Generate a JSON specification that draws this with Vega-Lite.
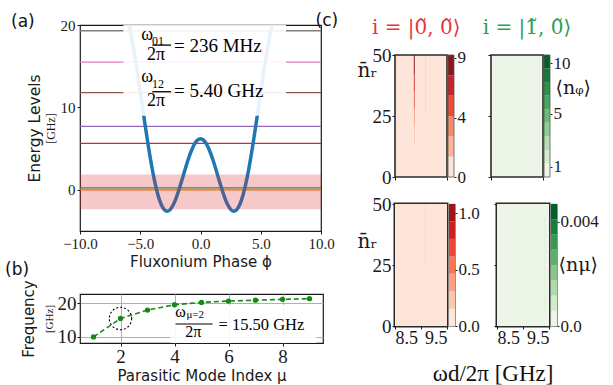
{
"$schema": "https://vega.github.io/schema/vega-lite/v6.json",
"background": "white",
"padding": {"left": 4, "top": 12, "right": 0, "bottom": 0},
"config": {
  "view": {"stroke": null},
  "axis": {"labelFont": "Liberation Serif", "titleFont": "DejaVu Sans", "titleFontWeight": "normal", "labelColor": "#1a1a1a", "titleColor": "#1a1a1a", "domainColor": "#1a1a1a", "tickColor": "#1a1a1a", "grid": false, "labelFlush": false, "labelOverlap": false},
  "title": {"font": "DejaVu Sans", "fontWeight": "normal", "fontSize": 17, "color": "#111111"}
},
"datasets": {
  "levels": [{"E":0.0,"lvl":"E0"},{"E":0.24,"lvl":"E1"},{"E":5.64,"lvl":"E2"},{"E":7.7,"lvl":"E3"},{"E":11.8,"lvl":"E4"},{"E":15.5,"lvl":"E5"},{"E":19.3,"lvl":"E6"}],
  "pot": [{"phi":-5.93,"V":20.0},{"phi":-5.75,"V":18.69},{"phi":-5.5,"V":16.62},{"phi":-5.25,"V":14.32},{"phi":-5.0,"V":11.88},{"phi":-4.75,"V":9.38},{"phi":-4.5,"V":6.92},{"phi":-4.25,"V":4.59},{"phi":-4.0,"V":2.47},{"phi":-3.75,"V":0.66},{"phi":-3.5,"V":-0.78},{"phi":-3.25,"V":-1.82},{"phi":-3.0,"V":-2.42},{"phi":-2.75,"V":-2.6},{"phi":-2.5,"V":-2.37},{"phi":-2.25,"V":-1.79},{"phi":-2.0,"V":-0.91},{"phi":-1.75,"V":0.18},{"phi":-1.5,"V":1.38},{"phi":-1.25,"V":2.61},{"phi":-1.0,"V":3.77},{"phi":-0.75,"V":4.77},{"phi":-0.5,"V":5.55},{"phi":-0.25,"V":6.03},{"phi":0.0,"V":6.2},{"phi":0.25,"V":6.03},{"phi":0.5,"V":5.55},{"phi":0.75,"V":4.77},{"phi":1.0,"V":3.77},{"phi":1.25,"V":2.61},{"phi":1.5,"V":1.38},{"phi":1.75,"V":0.18},{"phi":2.0,"V":-0.91},{"phi":2.25,"V":-1.79},{"phi":2.5,"V":-2.37},{"phi":2.75,"V":-2.6},{"phi":3.0,"V":-2.42},{"phi":3.25,"V":-1.82},{"phi":3.5,"V":-0.78},{"phi":3.75,"V":0.66},{"phi":4.0,"V":2.47},{"phi":4.25,"V":4.59},{"phi":4.5,"V":6.92},{"phi":4.75,"V":9.38},{"phi":5.0,"V":11.88},{"phi":5.25,"V":14.32},{"phi":5.5,"V":16.62},{"phi":5.75,"V":18.69},{"phi":5.93,"V":20.0}],
  "bandA": [{"x0":-10,"x1":10,"lo":-2.35,"hi":1.85}],
  "boxA": [{"x0":-6.4,"x1":7.1,"y0":9.0,"y1":20}],
  "omegaA": [{"x":-4.42,"y":18.8,"t":"ω"},{"x":-3.69,"y":16.3,"t":"2π"},{"x":-4.42,"y":13.65,"t":"ω"},{"x":-3.69,"y":10.75,"t":"2π"}],
  "subA": [{"x":-4.02,"y":18.0,"t":"01"},{"x":-4.02,"y":12.8,"t":"12"}],
  "barA": [{"x0":-4.0,"x1":-2.45,"y":17.56},{"x0":-4.0,"x1":-2.45,"y":11.9}],
  "eqA": [{"x":-2.2,"y":17.5,"t":"=  236 MHz"},{"x":-2.2,"y":12.0,"t":"=  5.40 GHz"}],
  "modes": [{"mu":1,"f":10.0},{"mu":2,"f":15.5},{"mu":3,"f":18.0},{"mu":4,"f":19.6},{"mu":5,"f":20.3},{"mu":6,"f":20.7},{"mu":7,"f":20.95},{"mu":8,"f":21.2},{"mu":9,"f":21.4}],
  "circleB": [{"mu":2,"f":15.5}],
  "boxB": [{"x0":3.85,"x1":9.25,"y0":8.2,"y1":19.6}],
  "omegaB": [{"x":4.22,"y":17.4,"t":"ω"},{"x":4.7,"y":11.39,"t":"2π"}],
  "subB": [{"x":4.44,"y":16.4,"t":"μ=2"}],
  "barB": [{"x0":4.04,"x1":5.41,"y":13.86}],
  "eqB": [{"x":5.63,"y":13.68,"t":"=  15.50 GHz"}],
  "hmframe": [{"x0":8.5,"x1":9.5,"y0":0,"y1":50}],
  "hm1": [{"x0":8.5,"x1":9.5,"y0":0,"y1":50,"v":0.5},{"x0":8.862,"x1":8.88,"y0":42,"y1":50,"v":8.5},{"x0":8.863,"x1":8.879,"y0":35,"y1":42,"v":6.5},{"x0":8.864,"x1":8.878,"y0":28,"y1":35,"v":5.0},{"x0":8.865,"x1":8.877,"y0":21,"y1":28,"v":3.5},{"x0":8.866,"x1":8.876,"y0":13,"y1":21,"v":2.0},{"x0":9.088,"x1":9.094,"y0":26,"y1":50,"v":2.0}],
  "cb1": [{"lo":0,"hi":1.508,"v":0.75},{"lo":1.508,"hi":3.017,"v":2.26},{"lo":3.017,"hi":4.525,"v":3.77},{"lo":4.525,"hi":6.033,"v":5.28},{"lo":6.033,"hi":7.542,"v":6.79},{"lo":7.542,"hi":9.05,"v":8.3}],
  "cb1frame": [{"lo":0,"hi":9.05}],
  "hm2": [{"x0":8.5,"x1":9.5,"y0":0,"y1":50,"w":0.8},{"x0":9.42,"x1":9.427,"y0":3,"y1":50,"w":2.5}],
  "cb2": [{"lo":0.3,"hi":1.467,"w":0.9},{"lo":1.467,"hi":2.633,"w":2.05},{"lo":2.633,"hi":3.8,"w":3.2},{"lo":3.8,"hi":4.967,"w":4.4},{"lo":4.967,"hi":6.133,"w":5.55},{"lo":6.133,"hi":7.3,"w":6.7},{"lo":7.3,"hi":8.467,"w":7.9},{"lo":8.467,"hi":9.633,"w":9.05},{"lo":9.633,"hi":10.8,"w":10.2}],
  "cb2frame": [{"lo":0.3,"hi":10.8}],
  "hm3": [{"x0":8.5,"x1":9.5,"y0":0,"y1":50,"p":0.05},{"x0":9.087,"x1":9.094,"y0":25,"y1":50,"p":0.25}],
  "cb3": [{"lo":0,"hi":0.154,"p":0.08},{"lo":0.154,"hi":0.309,"p":0.23},{"lo":0.309,"hi":0.463,"p":0.39},{"lo":0.463,"hi":0.617,"p":0.54},{"lo":0.617,"hi":0.771,"p":0.69},{"lo":0.771,"hi":0.926,"p":0.85},{"lo":0.926,"hi":1.08,"p":1.0}],
  "hm4": [{"x0":8.5,"x1":9.5,"y0":0,"y1":50,"q":0.0002},{"x0":9.418,"x1":9.425,"y0":5,"y1":45,"q":0.0009}],
  "cb4": [{"lo":0,"hi":0.000584,"q":0.0003},{"lo":0.000584,"hi":0.001169,"q":0.0009},{"lo":0.001169,"hi":0.001753,"q":0.0015},{"lo":0.001753,"hi":0.002337,"q":0.002},{"lo":0.002337,"hi":0.002921,"q":0.0026},{"lo":0.002921,"hi":0.003506,"q":0.0032},{"lo":0.003506,"hi":0.00409,"q":0.0038},{"lo":0.00409,"hi":0.004674,"q":0.0044}]
},
"resolve": {"scale": {"color": "independent"}},
"spacing": -20,
"hconcat": [
  {
    "spacing": -10,
    "vconcat": [
      {
        "width": 241, "height": 206,
        "title": {"text": "(a)", "anchor": "start", "frame": "bounds", "offset": -13, "dx": -16},
        "view": {"stroke": "#1a1a1a", "strokeWidth": 1.2},
        "resolve": {"scale": {"y": "independent"}},
        "layer": [
          {"layer": [
            {"data": {"name": "levels"}, "mark": {"type": "rule", "strokeWidth": 1.3},
             "encoding": {
               "y": {"field": "E", "type": "quantitative", "scale": {"domain": [-5, 20], "nice": false, "zero": false},
                     "axis": {"orient": "left", "values": [0, 10, 20], "title": "[GHz]", "titleFont": "Liberation Serif", "titleFontSize": 12, "titlePadding": 3, "labelFontSize": 15, "tickSize": 3, "labelPadding": 2, "domain": false}},
               "color": {"field": "lvl", "type": "nominal", "scale": {"domain": ["E0","E1","E2","E3","E4","E5","E6"], "range": ["#ff7f0e","#2ca02c","#d62728","#9467bd","#8c564b","#e377c2","#7f7f7f"]}, "legend": null}}},
            {"data": {"name": "pot"}, "mark": {"type": "line", "color": "#1f77b4", "strokeWidth": 3.5, "clip": true, "interpolate": "monotone"},
             "encoding": {
               "x": {"field": "phi", "type": "quantitative", "scale": {"domain": [-10, 10], "nice": false, "zero": false},
                     "axis": {"values": [-10, -5, 0, 5, 10], "format": ".1f", "labelFontSize": 15, "tickSize": 3, "labelPadding": 2, "domain": false, "title": "Fluxonium Phase ϕ", "titleFontSize": 15, "titlePadding": 3}},
               "y": {"field": "V", "type": "quantitative"}}}
          ]},
          {"data": {"name": "bandA"}, "mark": {"type": "rect", "color": "#d62728", "opacity": 0.25},
           "encoding": {
             "x": {"field": "x0", "type": "quantitative"}, "x2": {"field": "x1"},
             "y": {"field": "lo", "type": "quantitative", "scale": {"domain": [-5, 20], "nice": false, "zero": false},
                   "axis": {"orient": "left", "title": "Energy Levels", "labels": false, "ticks": false, "domain": false, "offset": 34, "titlePadding": 4, "titleFontSize": 15.5}},
             "y2": {"field": "hi"}}},
          {"layer": [
            {"data": {"name": "boxA"}, "mark": {"type": "rect", "color": "white", "opacity": 0.9, "clip": true},
             "encoding": {"x": {"field": "x0", "type": "quantitative"}, "x2": {"field": "x1"},
               "y": {"field": "y0", "type": "quantitative", "scale": {"domain": [-5, 20], "nice": false, "zero": false}, "axis": null}, "y2": {"field": "y1"}}},
            {"data": {"name": "barA"}, "mark": {"type": "rule", "color": "black", "strokeWidth": 1.3},
             "encoding": {"x": {"field": "x0", "type": "quantitative"}, "x2": {"field": "x1"}, "y": {"field": "y", "type": "quantitative", "axis": null}}},
            {"data": {"name": "omegaA"}, "mark": {"type": "text", "font": "Liberation Serif", "fontSize": 18, "align": "center", "baseline": "middle", "color": "black"},
             "encoding": {"x": {"field": "x", "type": "quantitative"}, "y": {"field": "y", "type": "quantitative", "axis": null}, "text": {"field": "t"}}},
            {"data": {"name": "subA"}, "mark": {"type": "text", "font": "Liberation Serif", "fontSize": 12, "align": "left", "baseline": "middle", "color": "black"},
             "encoding": {"x": {"field": "x", "type": "quantitative"}, "y": {"field": "y", "type": "quantitative", "axis": null}, "text": {"field": "t"}}},
            {"data": {"name": "eqA"}, "mark": {"type": "text", "font": "Liberation Serif", "fontSize": 19, "align": "left", "baseline": "middle", "color": "black"},
             "encoding": {"x": {"field": "x", "type": "quantitative"}, "y": {"field": "y", "type": "quantitative", "axis": null}, "text": {"field": "t"}}}
          ]}
        ]
      },
      {
        "width": 243, "height": 49,
        "title": {"text": "(b)", "anchor": "start", "frame": "bounds", "offset": 1, "dx": -16},
        "view": {"stroke": "#1a1a1a", "strokeWidth": 1.2},
        "resolve": {"scale": {"y": "independent"}},
        "layer": [
          {"layer": [
            {"data": {"name": "boxB"}, "mark": {"type": "rect", "color": "white", "opacity": 0.9},
             "encoding": {
               "x": {"field": "x0", "type": "quantitative", "scale": {"domain": [0.5, 9.5], "nice": false, "zero": false},
                     "axis": {"values": [2, 4, 6, 8], "grid": true, "gridColor": "#b0b0b0", "gridWidth": 1, "labelFontSize": 19, "tickSize": 3, "labelPadding": 1, "domain": false, "title": "Parasitic Mode Index μ", "titleFontSize": 15, "titlePadding": 2}},
               "x2": {"field": "x1"},
               "y": {"field": "y0", "type": "quantitative", "scale": {"domain": [8.2, 22.8], "nice": false, "zero": false},
                     "axis": {"orient": "left", "values": [10, 20], "grid": true, "gridColor": "#b0b0b0", "gridWidth": 1, "labelFontSize": 19, "tickSize": 3, "labelPadding": 1, "domain": false, "title": "[GHz]", "titleFont": "Liberation Serif", "titleFontSize": 11, "titlePadding": 3}},
               "y2": {"field": "y1"}}},
            {"data": {"name": "modes"}, "mark": {"type": "line", "color": "#148a14", "strokeWidth": 1.6, "strokeDash": [5, 3]},
             "encoding": {"x": {"field": "mu", "type": "quantitative"}, "y": {"field": "f", "type": "quantitative"}}},
            {"data": {"name": "modes"}, "mark": {"type": "point", "filled": true, "color": "#148a14", "size": 28, "opacity": 1},
             "encoding": {"x": {"field": "mu", "type": "quantitative"}, "y": {"field": "f", "type": "quantitative"}}}
          ]},
          {"data": {"name": "circleB"}, "mark": {"type": "point", "filled": false, "color": "black", "size": 500, "strokeWidth": 1.1, "strokeDash": [2, 2], "opacity": 1},
           "encoding": {"x": {"field": "mu", "type": "quantitative"},
             "y": {"field": "f", "type": "quantitative", "scale": {"domain": [8.2, 22.8], "nice": false, "zero": false},
                   "axis": {"orient": "left", "title": "Frequency", "labels": false, "ticks": false, "domain": false, "offset": 40, "titlePadding": 4, "titleFontSize": 15}}}},
          {"layer": [
            {"data": {"name": "barB"}, "mark": {"type": "rule", "color": "black", "strokeWidth": 1.2},
             "encoding": {"x": {"field": "x0", "type": "quantitative"}, "x2": {"field": "x1"},
               "y": {"field": "y", "type": "quantitative", "scale": {"domain": [8.2, 22.8], "nice": false, "zero": false}, "axis": null}}},
            {"data": {"name": "omegaB"}, "mark": {"type": "text", "font": "Liberation Serif", "fontSize": 16, "align": "center", "baseline": "middle", "color": "black"},
             "encoding": {"x": {"field": "x", "type": "quantitative"}, "y": {"field": "y", "type": "quantitative", "axis": null}, "text": {"field": "t"}}},
            {"data": {"name": "subB"}, "mark": {"type": "text", "font": "Liberation Serif", "fontSize": 11, "align": "left", "baseline": "middle", "color": "black"},
             "encoding": {"x": {"field": "x", "type": "quantitative"}, "y": {"field": "y", "type": "quantitative", "axis": null}, "text": {"field": "t"}}},
            {"data": {"name": "eqB"}, "mark": {"type": "text", "font": "Liberation Serif", "fontSize": 16.5, "align": "left", "baseline": "middle", "color": "black"},
             "encoding": {"x": {"field": "x", "type": "quantitative"}, "y": {"field": "y", "type": "quantitative", "axis": null}, "text": {"field": "t"}}}
          ]}
        ]
      }
    ]
  },
  {
    "title": {"text": "(c)", "anchor": "start", "frame": "bounds", "offset": -12, "dx": -40},
    "spacing": 6,
    "resolve": {"scale": {"color": "independent"}},
    "vconcat": [
      {
        "spacing": 16,
        "resolve": {"scale": {"color": "independent"}},
        "hconcat": [
          {
            "title": {"text": "i = |0̃, 0̃⟩", "color": "#e8333b", "font": "DejaVu Serif", "fontSize": 20, "anchor": "middle", "frame": "bounds", "dx": 5, "offset": -13},
            "spacing": -3,
            "hconcat": [
              {"width": 52, "height": 152,
               "layer": [
                 {"data": {"name": "hm1"}, "mark": "rect",
                  "encoding": {
                    "x": {"field": "x0", "type": "quantitative", "scale": {"domain": [8.5, 9.5], "nice": false, "zero": false}, "axis": {"values": [8.5, 9, 9.5], "labels": false, "tickSize": 3, "domain": false, "title": null}},
                    "x2": {"field": "x1"},
                    "y": {"field": "y0", "type": "quantitative", "scale": {"domain": [0, 62.3], "nice": false}, "axis": {"values": [0, 25, 50], "labelFontSize": 19, "tickSize": 3, "labelPadding": 1, "domain": false, "title": "n̄ᵣ", "titleFont": "DejaVu Serif", "titleFontSize": 20, "titleAngle": 0, "titleAlign": "left", "titleBaseline": "middle", "titleX": -38, "titleY": 45}},
                    "y2": {"field": "y1"},
                    "color": {"field": "v", "type": "quantitative", "scale": {"type": "threshold", "domain": [1.508, 3.017, 4.525, 6.033, 7.542], "range": ["#fde5d9", "#fcb59c", "#f7896c", "#ee4b35", "#c8222a", "#8b171d"]}, "legend": null}}},
                 {"data": {"name": "hmframe"}, "mark": {"type": "rect", "filled": false, "stroke": "#2b2b2b", "strokeWidth": 1.6},
                  "encoding": {"x": {"field": "x0", "type": "quantitative"}, "x2": {"field": "x1"}, "y": {"field": "y0", "type": "quantitative"}, "y2": {"field": "y1"}}}
               ]},
              {"width": 6, "height": 152,
               "layer": [
                 {"data": {"name": "cb1"}, "mark": "rect",
                  "encoding": {
                    "y": {"field": "lo", "type": "quantitative", "scale": {"domain": [0, 11.275], "nice": false, "zero": false}, "axis": {"orient": "right", "values": [0, 4.4, 8.85], "format": ".0f", "labelFontSize": 17, "tickSize": 2, "labelPadding": 1, "domain": false, "title": null}},
                    "y2": {"field": "hi"},
                    "color": {"field": "v", "type": "quantitative", "scale": {"type": "threshold", "domain": [1.508, 3.017, 4.525, 6.033, 7.542], "range": ["#fde5d9", "#fcb59c", "#f7896c", "#ee4b35", "#c8222a", "#8b171d"]}, "legend": null}}},
                 {"data": {"name": "cb1frame"}, "mark": {"type": "rect", "filled": false, "stroke": "#555555", "strokeWidth": 0.8},
                  "encoding": {"y": {"field": "lo", "type": "quantitative"}, "y2": {"field": "hi"}}}
               ]}
            ]
          },
          {
            "title": {"text": "i = |1̃, 0̃⟩", "color": "#2e9e52", "font": "DejaVu Serif", "fontSize": 20, "anchor": "middle", "frame": "bounds", "dx": -12, "offset": -13},
            "spacing": -3,
            "hconcat": [
              {"width": 52, "height": 152,
               "layer": [
                 {"data": {"name": "hm2"}, "mark": "rect",
                  "encoding": {
                    "x": {"field": "x0", "type": "quantitative", "scale": {"domain": [8.5, 9.5], "nice": false, "zero": false}, "axis": {"values": [8.5, 9, 9.5], "labels": false, "tickSize": 3, "domain": false, "title": null}},
                    "x2": {"field": "x1"},
                    "y": {"field": "y0", "type": "quantitative", "scale": {"domain": [0, 62.3], "nice": false}, "axis": {"values": [0, 25, 50], "labels": false, "tickSize": 3, "domain": false, "title": null}},
                    "y2": {"field": "y1"},
                    "color": {"field": "w", "type": "quantitative", "scale": {"type": "threshold", "domain": [1.467, 2.633, 3.8, 4.967, 6.133, 7.3, 8.467, 9.633], "range": ["#ecf5e7", "#d3edcc", "#b3e0ad", "#90cf8c", "#6abd74", "#46a85c", "#2c914a", "#137a38", "#036029"]}, "legend": null}}},
                 {"data": {"name": "hmframe"}, "mark": {"type": "rect", "filled": false, "stroke": "#2b2b2b", "strokeWidth": 1.6},
                  "encoding": {"x": {"field": "x0", "type": "quantitative"}, "x2": {"field": "x1"}, "y": {"field": "y0", "type": "quantitative"}, "y2": {"field": "y1"}}}
               ]},
              {"width": 6, "height": 152,
               "layer": [
                 {"data": {"name": "cb2"}, "mark": "rect",
                  "encoding": {
                    "y": {"field": "lo", "type": "quantitative", "scale": {"domain": [0.3, 13.38], "nice": false, "zero": false}, "axis": {"orient": "right", "values": [1.2, 5.75, 10.1], "labelExpr": "datum.value < 2 ? '1' : datum.value < 7 ? '5' : '10'", "labelFontSize": 17, "tickSize": 2, "labelPadding": 1, "domain": false, "title": "⟨nᵩ⟩", "titleFont": "DejaVu Serif", "titleFontSize": 19, "titleAngle": 0, "titleAlign": "left", "titleBaseline": "middle", "titleX": 5, "titleY": 62}},
                    "y2": {"field": "hi"},
                    "color": {"field": "w", "type": "quantitative", "scale": {"type": "threshold", "domain": [1.467, 2.633, 3.8, 4.967, 6.133, 7.3, 8.467, 9.633], "range": ["#ecf5e7", "#d3edcc", "#b3e0ad", "#90cf8c", "#6abd74", "#46a85c", "#2c914a", "#137a38", "#036029"]}, "legend": null}}},
                 {"data": {"name": "cb2frame"}, "mark": {"type": "rect", "filled": false, "stroke": "#555555", "strokeWidth": 0.8},
                  "encoding": {"y": {"field": "lo", "type": "quantitative"}, "y2": {"field": "hi"}}}
               ]}
            ]
          }
        ]
      },
      {
        "title": {"text": "ωd/2π [GHz]", "orient": "bottom", "font": "Liberation Serif", "fontSize": 23, "anchor": "middle", "frame": "bounds", "dx": 16, "offset": 14},
        "spacing": 12,
        "resolve": {"scale": {"color": "independent"}},
        "hconcat": [
          {
            "spacing": -3,
            "hconcat": [
              {"width": 52, "height": 122, "view": {"stroke": "#2b2b2b", "strokeWidth": 3},
               "data": {"name": "hm3"}, "mark": "rect",
               "encoding": {
                 "x": {"field": "x0", "type": "quantitative", "scale": {"domain": [8.5, 9.5], "nice": false, "zero": false}, "axis": {"values": [8.5, 9, 9.5], "labelExpr": "datum.value == 9 ? '' : format(datum.value, '.1f')", "labelFlush": true, "labelFontSize": 18, "tickSize": 3, "labelPadding": 0, "domain": false, "title": null}},
                 "x2": {"field": "x1"},
                 "y": {"field": "y0", "type": "quantitative", "scale": {"domain": [0, 50], "nice": false}, "axis": {"values": [0, 25, 50], "labelFontSize": 19, "tickSize": 3, "labelPadding": 1, "domain": false, "title": "n̄ᵣ", "titleFont": "DejaVu Serif", "titleFontSize": 20, "titleAngle": 0, "titleAlign": "left", "titleBaseline": "middle", "titleX": -38, "titleY": 37}},
                 "y2": {"field": "y1"},
                 "color": {"field": "p", "type": "quantitative", "scale": {"type": "threshold", "domain": [0.154, 0.309, 0.463, 0.617, 0.771, 0.926], "range": ["#fde5d9", "#fdc6ad", "#fca084", "#f97556", "#ef4533", "#cd1f24", "#a0141a"]}, "legend": null}}},
              {"width": 6, "height": 122, "view": {"stroke": "#555555", "strokeWidth": 0.8},
               "data": {"name": "cb3"}, "mark": "rect",
               "encoding": {
                 "y": {"field": "lo", "type": "quantitative", "scale": {"domain": [0, 1.08], "nice": false, "zero": false}, "axis": {"orient": "right", "values": [0, 0.5, 1.0], "format": ".1f", "labelFontSize": 17, "tickSize": 2, "labelPadding": 1, "domain": false, "title": null}},
                 "y2": {"field": "hi"},
                 "color": {"field": "p", "type": "quantitative", "scale": {"type": "threshold", "domain": [0.154, 0.309, 0.463, 0.617, 0.771, 0.926], "range": ["#fde5d9", "#fdc6ad", "#fca084", "#f97556", "#ef4533", "#cd1f24", "#a0141a"]}, "legend": null}}}
            ]
          },
          {
            "spacing": -3,
            "hconcat": [
              {"width": 52, "height": 122, "view": {"stroke": "#2b2b2b", "strokeWidth": 3},
               "data": {"name": "hm4"}, "mark": "rect",
               "encoding": {
                 "x": {"field": "x0", "type": "quantitative", "scale": {"domain": [8.5, 9.5], "nice": false, "zero": false}, "axis": {"values": [8.5, 9, 9.5], "labelExpr": "datum.value == 9 ? '' : format(datum.value, '.1f')", "labelFlush": true, "labelFontSize": 18, "tickSize": 3, "labelPadding": 0, "domain": false, "title": null}},
                 "x2": {"field": "x1"},
                 "y": {"field": "y0", "type": "quantitative", "scale": {"domain": [0, 50], "nice": false}, "axis": {"values": [0, 25, 50], "labels": false, "tickSize": 3, "domain": false, "title": null}},
                 "y2": {"field": "y1"},
                 "color": {"field": "q", "type": "quantitative", "scale": {"type": "threshold", "domain": [0.000584, 0.001169, 0.001753, 0.002337, 0.002921, 0.003506, 0.00409], "range": ["#ecf5e7", "#cfebc8", "#abdca5", "#83c984", "#58b367", "#339a4f", "#167f3b", "#03602a"]}, "legend": null}}},
              {"width": 6, "height": 122, "view": {"stroke": "#555555", "strokeWidth": 0.8},
               "data": {"name": "cb4"}, "mark": "rect",
               "encoding": {
                 "y": {"field": "lo", "type": "quantitative", "scale": {"domain": [0, 0.004674], "nice": false, "zero": false}, "axis": {"orient": "right", "values": [0, 0.004], "labelExpr": "datum.value == 0 ? '0.0' : '0.004'", "labelFontSize": 17, "tickSize": 2, "labelPadding": 1, "domain": false, "title": "⟨nμ⟩", "titleFont": "DejaVu Serif", "titleFontSize": 19, "titleAngle": 0, "titleAlign": "left", "titleBaseline": "middle", "titleX": 1, "titleY": 60}},
                 "y2": {"field": "hi"},
                 "color": {"field": "q", "type": "quantitative", "scale": {"type": "threshold", "domain": [0.000584, 0.001169, 0.001753, 0.002337, 0.002921, 0.003506, 0.00409], "range": ["#ecf5e7", "#cfebc8", "#abdca5", "#83c984", "#58b367", "#339a4f", "#167f3b", "#03602a"]}, "legend": null}}}
            ]
          }
        ]
      }
    ]
  }
]
}
